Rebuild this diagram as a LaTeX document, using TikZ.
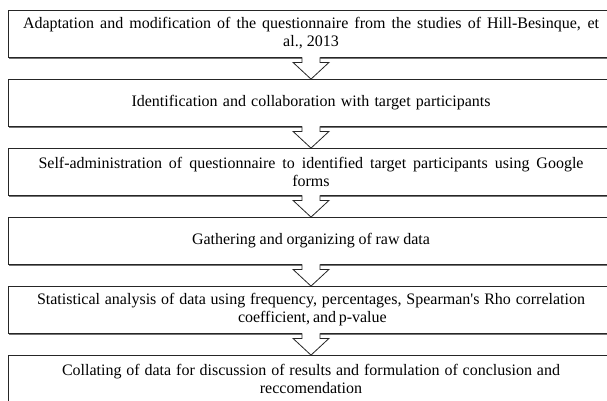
\documentclass[tikz,border=0pt]{standalone}
\usepackage{fontspec}
\setmainfont{Liberation Serif}
\usetikzlibrary{calc,shadows}
\begin{document}
\begin{tikzpicture}[x=1pt,y=-1pt,
  stepbox/.style={draw=black!85, line width=0.8pt, fill=white,
    minimum width=606pt, minimum height=47pt, inner sep=0pt, align=center,
    font=\fontsize{16}{18}\selectfont,
    drop shadow={shadow xshift=1pt, shadow yshift=-1.6pt, fill=black!55, opacity=1}},
  arrowfill/.style={fill=white},
  arrowline/.style={draw=black!85, line width=0.8pt, line join=miter}]
\useasboundingbox (0,0) rectangle (607,400);
\clip (0,0) rectangle (607,400);

\node[stepbox] (b1) at (311,33.5) {\makebox[576pt][s]{Adaptation and modification of the questionnaire from the studies of Hill-Besinque, et}\\ al., 2013};
\node[stepbox] (b2) at (311,102.5) {\makebox[359pt][s]{Identification and collaboration with target participants}};
\node[stepbox] (b3) at (311,171.5) {\makebox[545pt][s]{Self-administration of questionnaire to identified target participants using Google}\\ forms};
\node[stepbox] (b4) at (311,240.5) {\makebox[238pt][s]{Gathering and organizing of raw data}};
\node[stepbox] (b5) at (311,309.5) {\makebox[548pt][s]{Statistical analysis of data using frequency, percentages, Spearman\textquotesingle s Rho correlation}\\ \makebox[146pt][s]{coefficient, and p-value}};
\node[stepbox] (b6) at (311,378.5) {\makebox[498pt][s]{Collating of data for discussion of results and formulation of conclusion and}\\ reccomendation};

\foreach \a/\b in {b1/b2,b2/b3,b3/b4,b4/b5,b5/b6}{
  \fill[arrowfill] ($(\a.south)+(-9,-0.4)$) -- ($(\a.south)+(-9,5)$) -- ($(\a.south)+(-18,5)$)
    -- ($(\b.north)+(0,0.5)$) -- ($(\a.south)+(18,5)$) -- ($(\a.south)+(9,5)$)
    -- ($(\a.south)+(9,-0.4)$) -- cycle;
  \draw[arrowline] ($(\a.south)+(-9,0)$) -- ($(\a.south)+(-9,5)$) -- ($(\a.south)+(-18,5)$)
    -- ($(\b.north)+(0,0.5)$) -- ($(\a.south)+(18,5)$) -- ($(\a.south)+(9,5)$)
    -- ($(\a.south)+(9,0)$);
}
\end{tikzpicture}
\end{document}
